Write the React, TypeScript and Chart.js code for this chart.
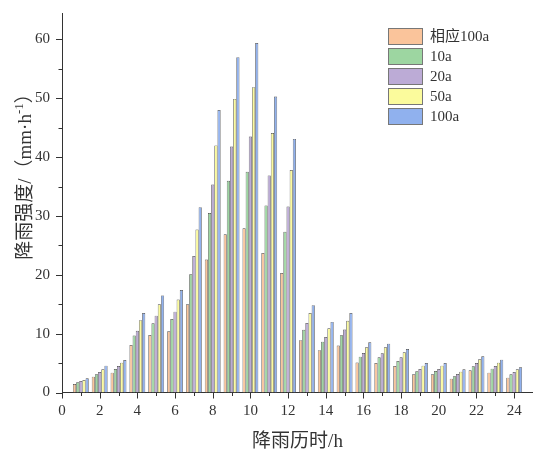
import React, { useEffect, useRef } from 'react';
import { Chart, registerables } from 'chart.js';

Chart.register(...registerables);

const hours = [1, 2, 3, 4, 5, 6, 7, 8, 9, 10, 11, 12, 13, 14, 15, 16, 17, 18, 19, 20, 21, 22, 23, 24];
const seriesLabels = ['相应100a', '10a', '20a', '50a', '100a'];
const seriesColors = ['#FAC49B', '#9DD6A1', '#BCABD6', '#FBFB9C', '#90B1EE'];

const corresponding100a = [1.44, 2.69, 3.37, 8.07, 9.77, 10.4, 15.0, 22.6, 26.9, 27.9, 23.7, 20.3, 8.9, 7.2, 8.0, 5.1, 5.0, 4.5, 3.1, 3.1, 2.35, 3.77, 3.37, 2.52];
const rp10a = [1.73, 3.09, 4.0, 9.7, 11.76, 12.5, 20.1, 30.5, 36.0, 37.5, 31.8, 27.3, 10.65, 8.64, 9.72, 6.09, 5.98, 5.35, 3.6, 3.65, 2.75, 4.45, 4.05, 3.09];
const rp20a = [1.95, 3.48, 4.5, 10.5, 13.06, 13.74, 23.2, 35.35, 41.8, 43.5, 36.9, 31.6, 11.8, 9.43, 10.7, 6.71, 6.66, 5.98, 3.99, 3.99, 3.14, 5.01, 4.5, 3.48];
const rp50a = [2.12, 3.94, 5.07, 12.3, 14.99, 15.8, 27.7, 42.0, 49.9, 51.9, 44.1, 37.8, 13.5, 10.9, 12.2, 7.68, 7.68, 6.83, 4.56, 4.56, 3.54, 5.64, 5.07, 3.94];
const rp100a = [2.41, 4.56, 5.52, 13.5, 16.5, 17.4, 31.5, 48.0, 57.0, 59.4, 50.3, 43.1, 14.85, 12.0, 13.5, 8.53, 8.3, 7.39, 5.01, 5.01, 3.94, 6.15, 5.58, 4.28];
const seriesValues = [corresponding100a, rp10a, rp20a, rp50a, rp100a];

const xTickValues = [0, 1, 2, 3, 4, 5, 6, 7, 8, 9, 10, 11, 12, 13, 14, 15, 16, 17, 18, 19, 20, 21, 22, 23, 24, 25];
const yTickValues = [0, 10, 20, 30, 40, 50, 60];
const yMinorValues = [5, 15, 25, 35, 45, 55];
const X_MIN = 0;
const X_MAX = 25;
const Y_MIN = 0;
const Y_MAX = 64.5;

const xTitle = '降雨历时/h';
const yTitleMain = '降雨强度/（mm·h';
const yTitleSup = '-1';
const yTitleEnd = '）';

const FONT = "'Liberation Serif', 'Noto Sans CJK SC', serif";
const TEXT_COLOR = '#333';

const decorPlugin = {
  id: 'decor',
  afterDraw(chart: any) {
    const ctx = chart.ctx as CanvasRenderingContext2D;
    const { left, bottom } = chart.chartArea;
    const xs = chart.scales.x;
    const ys = chart.scales.y;
    ctx.save();
    // tick marks
    ctx.strokeStyle = '#333';
    ctx.lineWidth = 1;
    ctx.beginPath();
    for (const v of xTickValues) {
      const px = Math.round(xs.getPixelForValue(v)) + 0.5;
      const len = v % 2 === 0 ? 6 : 3.5;
      ctx.moveTo(px, bottom);
      ctx.lineTo(px, bottom + len);
    }
    for (const v of yTickValues) {
      const py = Math.round(ys.getPixelForValue(v)) + 0.5;
      ctx.moveTo(left, py);
      ctx.lineTo(left - 6, py);
    }
    for (const v of yMinorValues) {
      const py = Math.round(ys.getPixelForValue(v)) + 0.5;
      ctx.moveTo(left, py);
      ctx.lineTo(left - 3.5, py);
    }
    ctx.stroke();

    // x title
    ctx.fillStyle = TEXT_COLOR;
    ctx.font = `19px ${FONT}`;
    ctx.textAlign = 'center';
    ctx.textBaseline = 'middle';
    ctx.fillText(xTitle, (chart.chartArea.left + chart.chartArea.right) / 2, 442);

    // y title (rotated, with superscript)
    ctx.save();
    ctx.translate(26, 172);
    ctx.rotate(-Math.PI / 2);
    ctx.font = `19px ${FONT}`;
    const w1 = ctx.measureText(yTitleMain).width;
    ctx.font = `13px ${FONT}`;
    const w2 = ctx.measureText(yTitleSup).width;
    ctx.font = `19px ${FONT}`;
    const w3 = ctx.measureText(yTitleEnd).width;
    const total = w1 + w2 + w3;
    let cx = -total / 2;
    ctx.textAlign = 'left';
    ctx.textBaseline = 'middle';
    ctx.fillText(yTitleMain, cx, 0);
    cx += w1;
    ctx.font = `13px ${FONT}`;
    ctx.fillText(yTitleSup, cx, -6);
    cx += w2;
    ctx.font = `19px ${FONT}`;
    ctx.fillText(yTitleEnd, cx, 0);
    ctx.restore();

    // legend
    const lx = 388;
    const ly = 28;
    chart.data.datasets.forEach((ds: any, i: number) => {
      const y = ly + i * 20;
      ctx.fillStyle = ds.backgroundColor;
      ctx.fillRect(lx, y, 35, 17);
      ctx.strokeStyle = '#777';
      ctx.lineWidth = 1;
      ctx.strokeRect(lx + 0.5, y + 0.5, 34, 16);
      ctx.fillStyle = TEXT_COLOR;
      ctx.font = `15px ${FONT}`;
      ctx.textAlign = 'left';
      ctx.textBaseline = 'middle';
      ctx.fillText(ds.label, lx + 42, y + 9);
    });
    ctx.restore();
  },
};

function zeroPadding(s: any) {
  s.paddingTop = 0;
  s.paddingBottom = 0;
  s.paddingLeft = 0;
  s.paddingRight = 0;
}

export default function App() {
  const canvasRef = useRef<HTMLCanvasElement | null>(null);

  useEffect(() => {
    document.body.style.margin = '0';
    const canvas = canvasRef.current;
    if (!canvas) return;
    const chart = new Chart(canvas, {
      type: 'bar',
      data: {
        datasets: seriesLabels.map((label, si) => ({
          label,
          data: hours.map((h, i) => ({ x: h, y: seriesValues[si][i] })),
          backgroundColor: seriesColors[si],
          borderColor: '#4a4a4a',
          borderWidth: 0.7,
          categoryPercentage: 0.84,
          barPercentage: 1.0,
        })),
      },
      options: {
        animation: false,
        responsive: false,
        maintainAspectRatio: false,
        layout: { padding: { top: 13, left: 0, right: 0, bottom: 0 } },
        plugins: {
          legend: { display: false },
          tooltip: { enabled: false },
        },
        scales: {
          x: {
            type: 'linear',
            min: X_MIN,
            max: X_MAX,
            offset: false,
            grid: { display: false },
            border: { display: true, color: '#333', width: 1 },
            afterBuildTicks: (s: any) => {
              s.ticks = xTickValues.map((v) => ({ value: v }));
            },
            afterFit: (s: any) => {
              s.height = 57.5;
              zeroPadding(s);
            },
            ticks: {
              autoSkip: false,
              maxRotation: 0,
              padding: 2,
              color: TEXT_COLOR,
              font: { family: FONT, size: 15 },
              callback: (v: any) => (Number(v) % 2 === 0 ? String(v) : ''),
            },
          },
          y: {
            type: 'linear',
            min: Y_MIN,
            max: Y_MAX,
            grid: { display: false },
            border: { display: true, color: '#333', width: 1 },
            afterBuildTicks: (s: any) => {
              s.ticks = yTickValues.map((v) => ({ value: v }));
            },
            afterFit: (s: any) => {
              s.width = 62;
              zeroPadding(s);
            },
            ticks: {
              padding: 4,
              color: TEXT_COLOR,
              font: { family: FONT, size: 15 },
              callback: (v: any) => String(v),
            },
          },
        },
      } as any,
      plugins: [decorPlugin],
    });
    return () => chart.destroy();
  }, []);

  return (
    <div style={{ width: 533, height: 450 }}>
      <canvas ref={canvasRef} width={533} height={450} />
    </div>
  );
}
